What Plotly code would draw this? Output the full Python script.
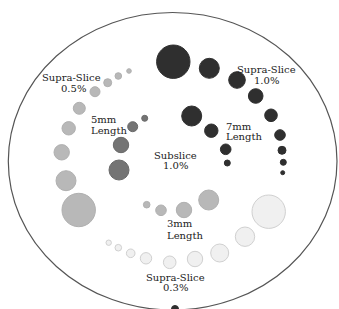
import plotly.graph_objects as go

# Series: centre x, centre y (pixel space of the figure), radius
supra10_x = [173.3, 209.3, 237.0, 255.7, 271.0, 280.0, 282.0, 283.3, 282.7]
supra10_y = [61.7, 68.3, 80.0, 96.0, 115.3, 135.0, 150.3, 162.3, 172.7]
supra10_r = [16.7, 10.0, 8.3, 7.3, 6.3, 5.3, 4.0, 3.0, 2.0]

len7_x = [191.7, 211.3, 225.7, 227.3]
len7_y = [116.0, 130.7, 149.3, 163.0]
len7_r = [10.0, 6.7, 5.3, 3.0]

len5_x = [119.0, 121.0, 132.7, 144.7]
len5_y = [170.0, 145.0, 126.7, 118.3]
len5_r = [10.0, 7.7, 5.0, 3.0]

supra05_x = [78.7, 66.0, 61.7, 68.7, 79.3, 95.0, 107.7, 118.3, 129.0]
supra05_y = [210.0, 180.7, 152.3, 128.3, 108.3, 91.7, 82.7, 76.0, 71.0]
supra05_r = [16.7, 10.0, 7.7, 6.7, 6.0, 5.0, 4.0, 3.3, 2.3]

len3_x = [208.7, 184.0, 161.0, 146.7]
len3_y = [200.0, 210.0, 210.3, 204.7]
len3_r = [10.0, 7.7, 5.3, 3.3]

supra03_x = [268.7, 245.0, 219.7, 195.0, 169.7, 146.0, 130.7, 118.3, 108.7]
supra03_y = [211.7, 236.7, 253.0, 259.0, 262.3, 258.3, 253.3, 247.7, 242.7]
supra03_r = [16.7, 9.7, 9.0, 7.7, 6.3, 5.7, 4.3, 3.3, 2.7]

edge_x = [175.0]
edge_y = [309.0]
edge_r = [3.5]

labels = ["Supra-Slice", "0.5%", "5mm", "Length", "7mm", "Length",
          "Subslice", "1.0%", "Supra-Slice", "1.0%", "3mm", "Length",
          "Supra-Slice", "0.3%"]
label_x = [71.0, 73.7, 89.3, 89.3, 224.0, 224.0, 175.8, 175.8, 266.7, 266.7, 164.5, 164.5, 175.7, 175.7]
label_y = [77.7, 88.3, 119.0, 130.0, 126.0, 136.7, 155.0, 165.0, 69.3, 80.0, 223.3, 235.0, 277.3, 287.3]
label_anchor = ["center", "center", "left", "left", "left", "left", "center", "center",
                "center", "center", "left", "left", "center", "center"]

W, H = 339, 309
fig = go.Figure()

fig.add_shape(type="circle", x0=8.3, x1=337, y0=12.5, y1=310,
              line=dict(color="#555555", width=1.2), layer="below")

series = [
    (supra10_x, supra10_y, supra10_r, "#2f2f2f", "#2f2f2f"),
    (len7_x, len7_y, len7_r, "#2f2f2f", "#2f2f2f"),
    (len5_x, len5_y, len5_r, "#747474", "#6a6a6a"),
    (supra05_x, supra05_y, supra05_r, "#b8b8b8", "#b0b0b0"),
    (len3_x, len3_y, len3_r, "#b8b8b8", "#b0b0b0"),
    (supra03_x, supra03_y, supra03_r, "#f0f0f0", "#d0d0d0"),
    (edge_x, edge_y, edge_r, "#2f2f2f", "#2f2f2f"),
]
for xs, ys, rs, fill, line in series:
    fig.add_trace(go.Scatter(
        x=xs, y=ys, mode="markers", cliponaxis=True,
        marker=dict(size=[2 * r for r in rs], sizemode="diameter", color=fill,
                    line=dict(color=line, width=1), opacity=1),
        hoverinfo="skip", showlegend=False,
    ))

for t, x, y, a in zip(labels, label_x, label_y, label_anchor):
    fig.add_annotation(x=x, y=y, text=t, showarrow=False, xanchor=a, yanchor="middle",
                       font=dict(family="DejaVu Serif", size=10, color="#222222"))

fig.update_layout(
    width=W, height=H, margin=dict(l=0, r=0, t=0, b=0),
    paper_bgcolor="white", plot_bgcolor="white",
    xaxis=dict(range=[0, W], visible=False, fixedrange=True),
    yaxis=dict(range=[H, 0], visible=False, fixedrange=True),
)
fig.write_html("out.html", config={"displayModeBar": False},
               post_script="document.body.style.margin='0';document.body.style.overflow='hidden';")
